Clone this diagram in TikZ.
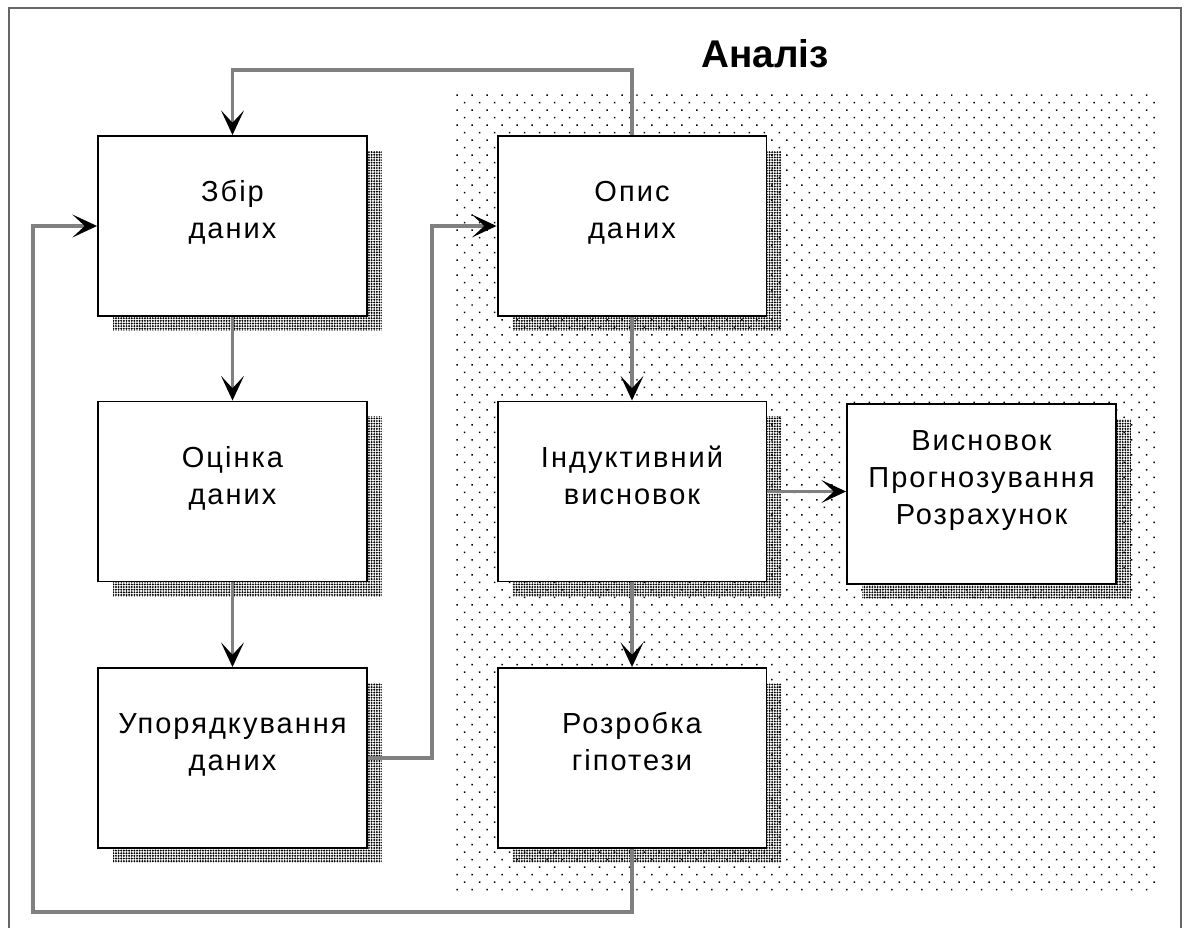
\documentclass[tikz,border=0pt]{standalone}
\usepackage{fontspec}
\setmainfont{Liberation Sans}
\usetikzlibrary{arrows.meta,patterns.meta,shadows}

\begin{document}
\begin{tikzpicture}[
  x=0.02cm,
  y=0.02cm,
  every node/.style={font=\fontsize{16.5}{21}\selectfont\addfontfeature{LetterSpace=7}},
  block/.style={draw=black, line width=1.1pt, fill=white,
    minimum width=5.38cm, minimum height=3.6cm, inner sep=0pt,
    align=center, text depth=0.65cm,
    drop shadow={shadow xshift=0.3cm, shadow yshift=-0.3cm, opacity=1,
      fill=white, pattern={Dots[distance=1.5pt, radius=0.62pt]}}},
  link/.style={black!50, line width=1.8pt,
    -{Stealth[length=14pt, width=13pt, inset=7pt, color=black]}},
  frame/.style={black!60, line width=0.8pt},
  zone/.style={pattern={Dots[distance=0.212cm, angle=45, radius=0.6pt]}}
]
  \useasboundingbox (0,0) rectangle (1186,927);

  % ================= frame and the shaded analysis zone ==================
  \draw[frame] (9,-10) -- (9,919) -- (1181,919) -- (1181,-10);
  \fill[zone] (453,37) rectangle (1160,834);

  \node[font=\fontsize{22}{26}\selectfont\bfseries] (title) at (765,873) {Аналіз};

  % ================= left column ==========================================
  \node[block] (zbir)    at (232.5,701)   {Збір\\даних};
  \node[block] (otsinka) at (232.5,435.5) {Оцінка\\даних};
  \node[block] (uporyad) at (232.5,169)   {Упорядкування\\даних};

  % ================= right column =========================================
  \node[block] (opys)   at (632,701)   {Опис\\даних};
  \node[block] (induct) at (632,435.5) {Індуктивний\\висновок};
  \node[block] (rozrob) at (632,169)   {Розробка\\гіпотези};
  \node[block] (vysnov) at (981.5,433) {Висновок\\Прогнозування\\Розрахунок};

  % ================= connectors ==========================================
  \coordinate (topbend) at (232.5,857);
  \coordinate (gap)     at (432,435);
  \coordinate (botleft) at (33,15);

  \draw[link] (opys.north) |- (topbend) -- (zbir.north);
  \draw[link] (zbir.south) -- (otsinka.north);
  \draw[link] (otsinka.south) -- (uporyad.north);
  \draw[link] (uporyad.east) -| (gap) |- (opys.west);
  \draw[link] (opys.south) -- (induct.north);
  \draw[link] (induct.south) -- (rozrob.north);
  \draw[link] (induct.east) -- (induct.east -| vysnov.west);
  \draw[link] (rozrob.south) |- (botleft) |- (zbir.west);
\end{tikzpicture}
\end{document}
